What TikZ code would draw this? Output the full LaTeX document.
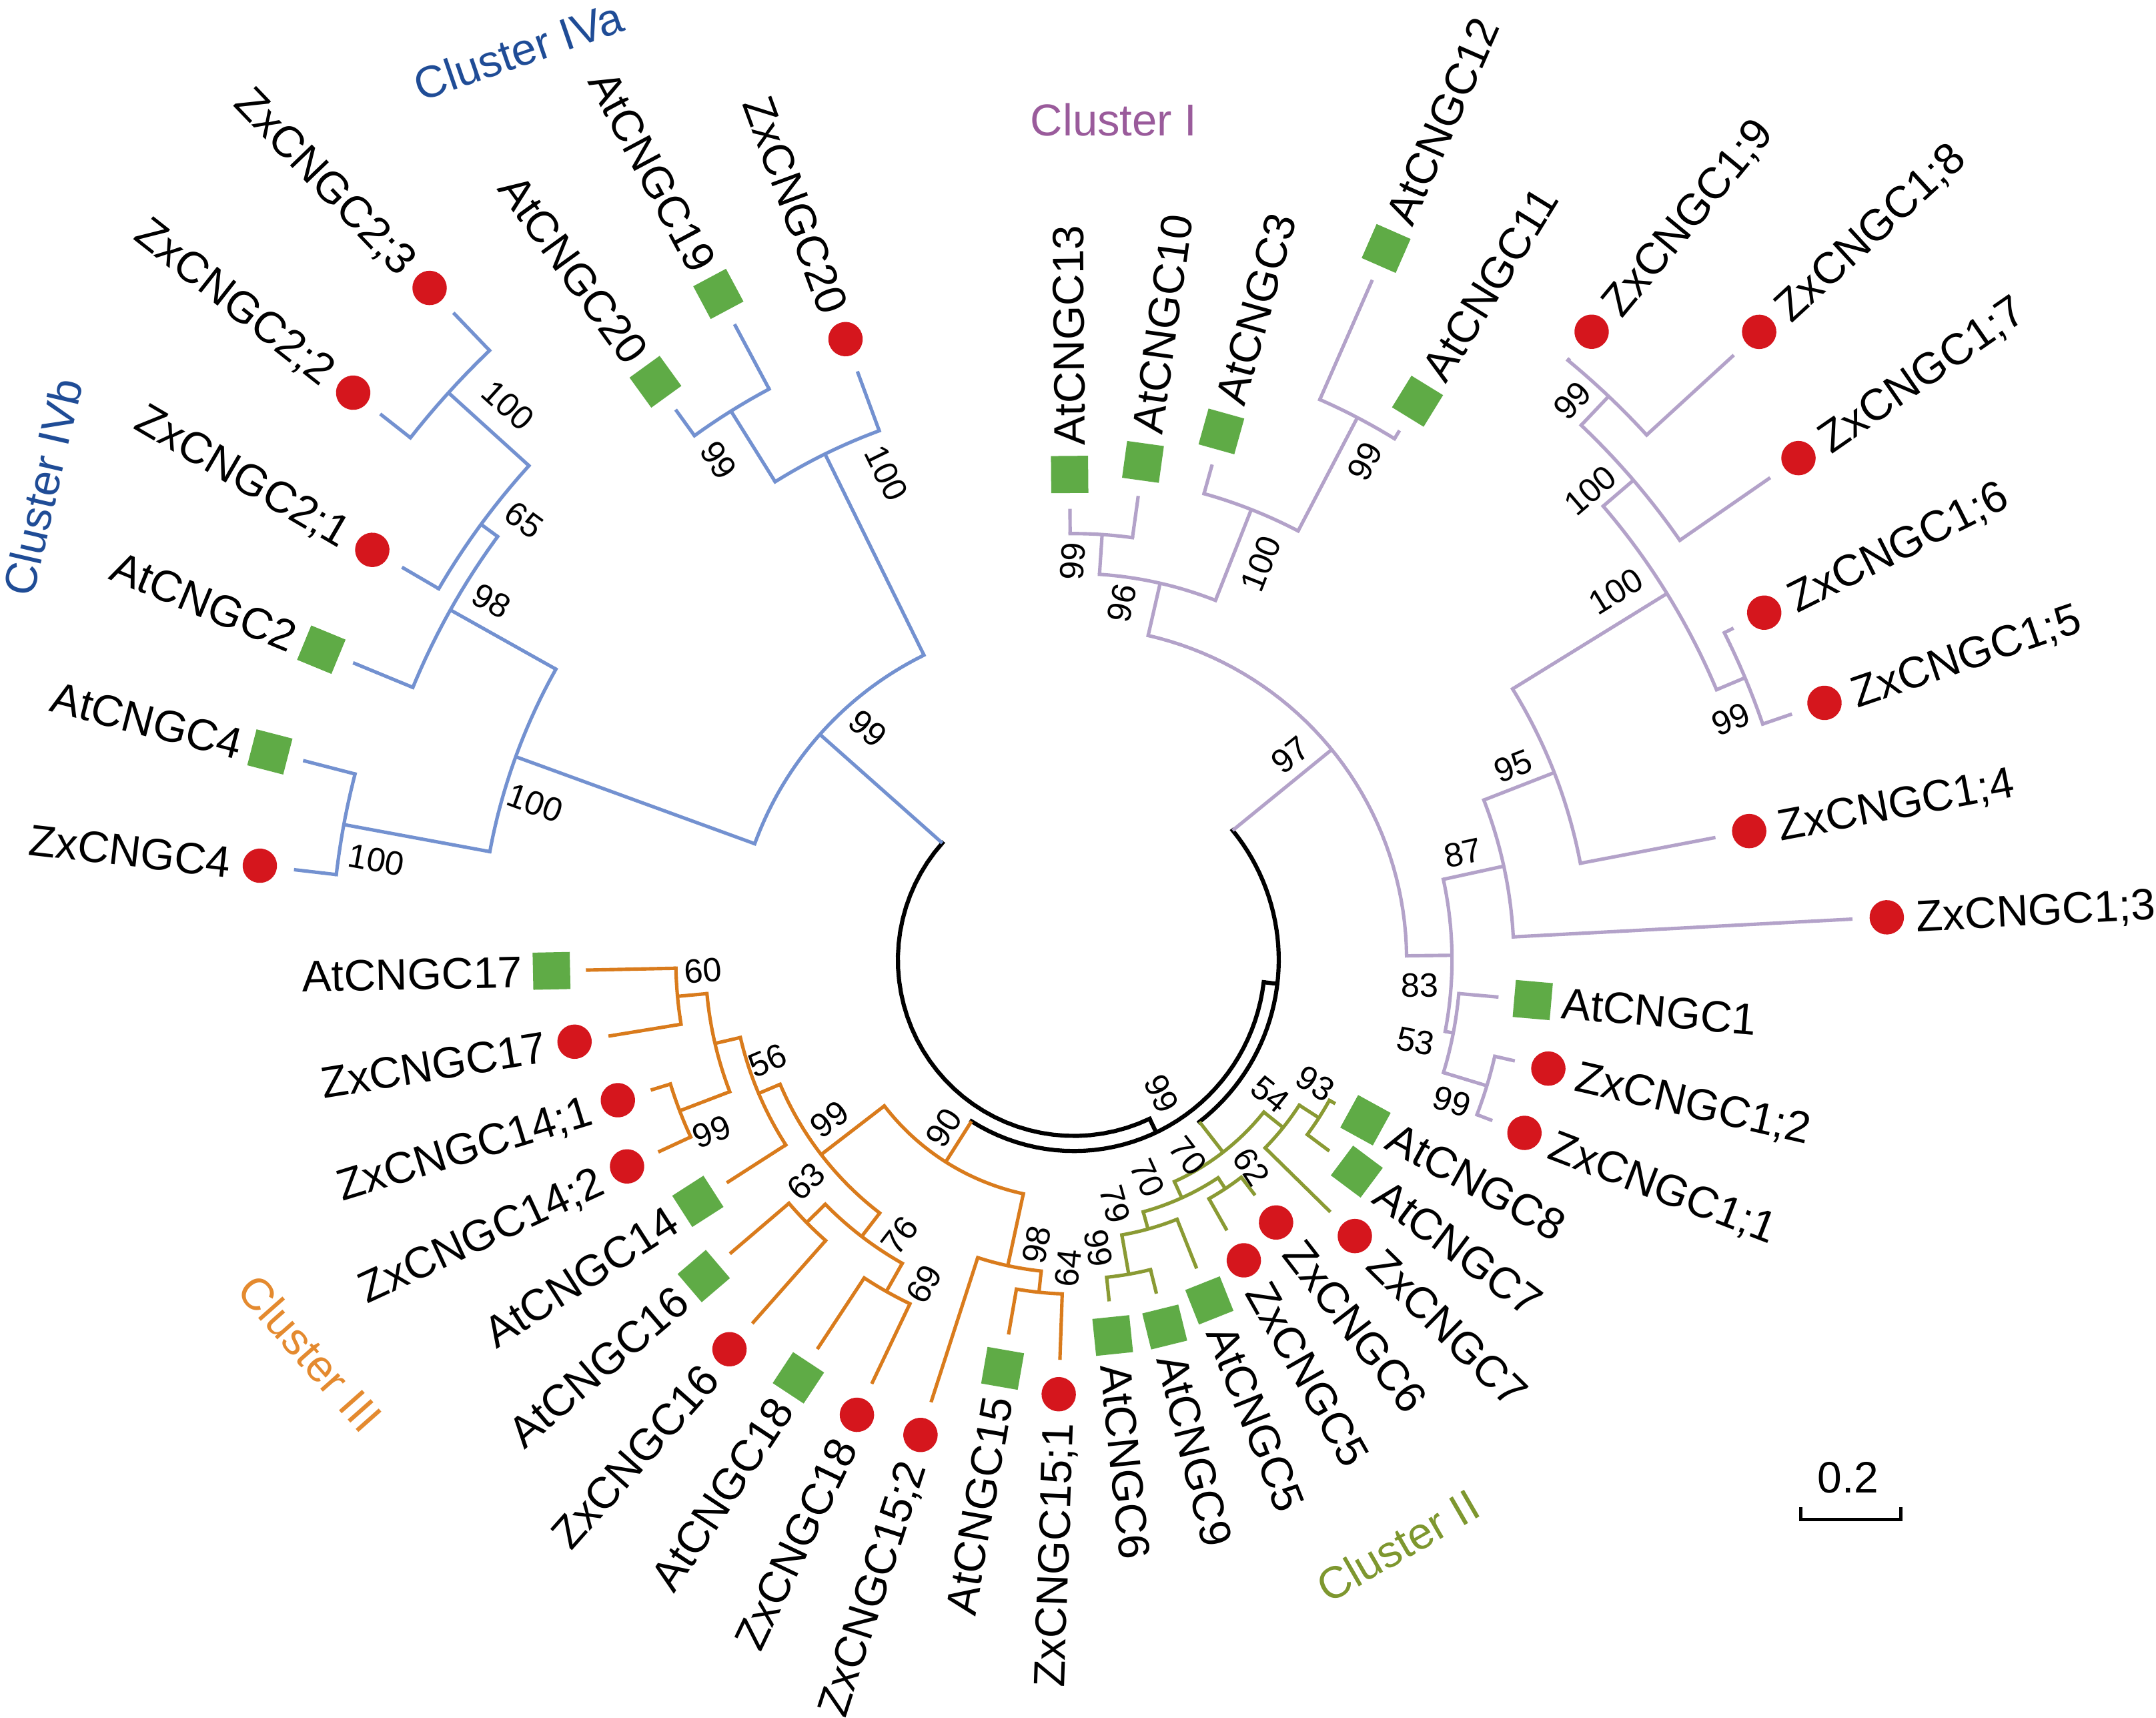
\documentclass[tikz,border=0pt]{standalone}
\usepackage{fontspec}
\setmainfont{Liberation Sans}
\definecolor{cblue}{HTML}{7391D0}
\definecolor{clav}{HTML}{B3A2C9}
\definecolor{cora}{HTML}{D97B1C}
\definecolor{coli}{HTML}{8A9A33}
\definecolor{cred}{HTML}{D5161D}
\definecolor{cgrn}{HTML}{5FAB46}
\definecolor{tblue}{HTML}{1F4C96}
\definecolor{tpur}{HTML}{9A5B9B}
\definecolor{tora}{HTML}{E48A2F}
\definecolor{toli}{HTML}{7E972F}
\tikzset{
  br/.style={line width=2.5pt},
  brarc/.style={line width=2.5pt, line cap=rect},
  blk/.style={black, line width=3pt},
  dotm/.style={circle, fill=cred, minimum size=25pt, inner sep=0pt},
  sqm/.style={rectangle, fill=cgrn, minimum size=27pt, inner sep=0pt},
  leaf/.style={inner sep=0pt, font=\fontsize{32}{38}\selectfont, text height=22.9pt, text depth=0pt},
  bsn/.style={inner sep=0pt, font=\fontsize{24.5}{28}\selectfont},
  clus/.style={inner sep=0pt, font=\fontsize{32.5}{38}\selectfont},
}
\newcommand\radx[4]{\draw[br,#1] (#2:#3) -- (#2:#4);}
\newcommand\arcx[4]{\draw[brarc,#1] plot[domain=#3:#4,samples=40,variable=\t] ({#2*cos(\t)},{#2*sin(\t)});}
\newcommand\leafR[7]{%
  \draw[br,#2] (#3:#4) -- (#3:#5);
  \pgfmathsetmacro\rmk{#5+25}%
  \pgfmathsetmacro\rtx{#5+46}%
  \node[#6,rotate=-#3] (m#1) at (#3:\rmk) {};
  \node[leaf,anchor=west,rotate=-#3] (#1) at (#3:\rtx) {#7};
}
\newcommand\leafL[7]{%
  \draw[br,#2] (#3:#4) -- (#3:#5);
  \pgfmathsetmacro\rmk{#5+25}%
  \pgfmathsetmacro\rtx{#5+46}%
  \node[#6,rotate=-#3] (m#1) at (#3:\rmk) {};
  \node[leaf,anchor=east,rotate={180-#3}] (#1) at (#3:\rtx) {#7};
}
\newcommand\bsl[4]{\node[bsn,rotate=#4] (#1) at (#2) {#3};}
\begin{document}
\begin{tikzpicture}[x=1pt,y=-1pt]
\fill[white] (0,0) rectangle (1568,1249);
\useasboundingbox (0,0) rectangle (1568,1249);
\begin{scope}[shift={(781,698)}]
% ---- backbone (black)
\arcx{blk}{128}{64.5}{221.6}
\radx{blk}{64.5}{128}{139}
\arcx{blk}{139}{6.7}{122.4}
\radx{blk}{6.7}{139}{149}
\arcx{blk}{149}{-39.2}{52.2}
% ---- Cluster IV (blue)
\radx{cblue}{221.6}{128}{247}
\arcx{cblue}{247}{200.0}{243.8}
\radx{cblue}{200.0}{247}{432}
\arcx{cblue}{432}{190.5}{209.3}
\radx{cblue}{190.5}{432}{540}
\arcx{cblue}{540}{186.6}{194.5}
\leafL{l0}{cblue}{186.6}{540}{571}{dotm}{ZxCNGC4}
\leafL{l1}{cblue}{194.5}{540}{579}{sqm}{AtCNGC4}
\radx{cblue}{209.3}{432}{520}
\arcx{cblue}{520}{202.4}{216.3}
\leafL{l2}{cblue}{202.4}{520}{567}{sqm}{AtCNGC2}
\radx{cblue}{216.3}{520}{535}
\arcx{cblue}{535}{210.3}{222.2}
\leafL{l3}{cblue}{210.3}{535}{566}{dotm}{ZxCNGC2;1}
\radx{cblue}{222.2}{535}{614}
\arcx{cblue}{614}{218.2}{226.2}
\leafL{l4}{cblue}{218.2}{614}{642}{dotm}{ZxCNGC2;2}
\leafL{l5}{cblue}{226.2}{614}{652}{dotm}{ZxCNGC2;3}
\radx{cblue}{243.8}{247}{410}
\arcx{cblue}{410}{238.0}{249.8}
\radx{cblue}{238.0}{410}{470.6}
\arcx{cblue}{470.6}{234.1}{241.9}
\leafL{l6}{cblue}{234.1}{470.6}{494}{sqm}{AtCNGC20}
\leafL{l7}{cblue}{241.9}{470.6}{524}{sqm}{AtCNGC19}
\leafL{l8}{cblue}{249.8}{410}{456}{dotm}{ZxCNGC20}
% ---- Cluster I (lavender)
\radx{clav}{320.8}{149}{242}
\arcx{clav}{242}{282.9}{359.3}
\radx{clav}{282.9}{242}{281}
\arcx{clav}{281}{273.8}{291.5}
\radx{clav}{273.8}{281}{310}
\arcx{clav}{310}{269.5}{277.9}
\leafR{l9}{clav}{269.5}{310}{328}{sqm}{AtCNGC13}
\leafR{l10}{clav}{277.9}{310}{340.6}{sqm}{AtCNGC10}
\radx{clav}{291.5}{281}{352}
\arcx{clav}{352}{285.6}{297.6}
\leafR{l11}{clav}{285.6}{352}{374}{sqm}{AtCNGC3}
\radx{clav}{297.6}{352}{445}
\arcx{clav}{445}{293.7}{301.6}
\leafR{l12}{clav}{293.7}{445}{540}{sqm}{AtCNGC12}
\leafR{l13}{clav}{301.6}{445}{452}{sqm}{AtCNGC11}
\radx{clav}{359.3}{242}{275}
\arcx{clav}{275}{347.7}{370.9}
\radx{clav}{347.7}{275}{320}
\arcx{clav}{320}{338.7}{357.0}
\leafR{l20}{clav}{357.0}{320}{567}{dotm}{ZxCNGC1;3}
\radx{clav}{338.7}{320}{375}
\arcx{clav}{375}{328.3}{349.2}
\leafR{l19}{clav}{349.2}{375}{475}{dotm}{ZxCNGC1;4}
\radx{clav}{328.3}{375}{507}
\arcx{clav}{507}{319.4}{337.2}
\radx{clav}{319.4}{507}{536}
\arcx{clav}{536}{313.5}{325.3}
\leafR{l16}{clav}{325.3}{536}{616}{dotm}{ZxCNGC1;7}
\radx{clav}{313.5}{536}{565}
\arcx{clav}{565}{309.5}{317.5}
\leafR{l14}{clav}{309.5}{565}{567}{dotm}{ZxCNGC1;9}
\leafR{l15}{clav}{317.5}{565}{651}{dotm}{ZxCNGC1;8}
\radx{clav}{337.2}{507}{529.5}
\arcx{clav}{529.5}{333.3}{341.1}
\leafR{l17}{clav}{333.3}{529.5}{537}{dotm}{ZxCNGC1;6}
\leafR{l18}{clav}{341.1}{529.5}{552}{dotm}{ZxCNGC1;5}
\radx{clav}{370.9}{275}{281}
\arcx{clav}{281}{365.0}{376.95}
\leafR{l21}{clav}{365.0}{281}{310}{sqm}{AtCNGC1}
\radx{clav}{376.95}{281}{314}
\arcx{clav}{314}{372.9}{381.0}
\leafR{l22}{clav}{372.9}{314}{329}{dotm}{ZxCNGC1;2}
\leafR{l23}{clav}{381.0}{314}{326}{dotm}{ZxCNGC1;1}
% ---- Cluster II (olive)
\radx{coli}{52.2}{149}{177}
\arcx{coli}{177}{38.7}{65.6}
\radx{coli}{38.7}{177}{195}
\arcx{coli}{195}{32.8}{44.5}
\radx{coli}{32.8}{195}{212}
\arcx{coli}{212}{28.8}{36.8}
\leafR{l24}{coli}{28.8}{212}{217}{sqm}{AtCNGC8}
\leafR{l25}{coli}{36.8}{212}{232}{sqm}{AtCNGC7}
\leafR{l26}{coli}{44.5}{195}{261.5}{dotm}{ZxCNGC7}
\radx{coli}{65.6}{177}{190}
\arcx{coli}{190}{56.5}{74.6}
\radx{coli}{56.5}{190}{199.5}
\arcx{coli}{199.5}{52.4}{60.5}
\leafR{l27}{coli}{52.4}{199.5}{216}{dotm}{ZxCNGC6}
\leafR{l28}{coli}{60.5}{199.5}{226}{dotm}{ZxCNGC5}
\radx{coli}{74.6}{190}{203}
\arcx{coli}{203}{68.3}{80.1}
\leafR{l29}{coli}{68.3}{203}{241.5}{sqm}{AtCNGC5}
\radx{coli}{80.1}{203}{232}
\arcx{coli}{232}{76.1}{84.1}
\leafR{l30}{coli}{76.1}{232}{250}{sqm}{AtCNGC9}
\leafR{l31}{coli}{84.1}{232}{249.6}{sqm}{AtCNGC6}
% ---- Cluster III (orange)
\radx{cora}{122.4}{139}{174}
\arcx{cora}{174}{102.2}{142.4}
\radx{cora}{102.2}{174}{227.5}
\arcx{cora}{227.5}{96.0}{107.9}
\leafL{l34}{cora}{107.9}{227.5}{338}{dotm}{ZxCNGC15;2}
\radx{cora}{96.0}{227.5}{243}
\arcx{cora}{243}{92.0}{99.9}
\leafL{l33}{cora}{99.9}{243}{276.5}{sqm}{AtCNGC15}
\leafL{l32}{cora}{92.0}{243}{291}{dotm}{ZxCNGC15;1}
\radx{cora}{142.4}{174}{232}
\arcx{cora}{232}{127.5}{157.05}
\radx{cora}{127.5}{232}{253.5}
\arcx{cora}{253.5}{119.5}{135.5}
\radx{cora}{135.5}{253.5}{272.5}
\arcx{cora}{272.5}{131.5}{139.5}
\leafL{l37}{cora}{131.5}{272.5}{353}{dotm}{ZxCNGC16}
\leafL{l38}{cora}{139.5}{272.5}{329}{sqm}{AtCNGC16}
\radx{cora}{119.5}{253.5}{277}
\arcx{cora}{277}{115.5}{123.4}
\leafL{l35}{cora}{115.5}{277}{341.5}{dotm}{ZxCNGC18}
\leafL{l36}{cora}{123.4}{277}{339}{sqm}{AtCNGC18}
\radx{cora}{157.05}{232}{249}
\arcx{cora}{249}{147.3}{166.9}
\leafL{l39}{cora}{147.3}{249}{300}{sqm}{AtCNGC14}
\radx{cora}{166.9}{249}{268}
\arcx{cora}{268}{159.05}{174.75}
\radx{cora}{159.05}{268}{307}
\arcx{cora}{307}{155.2}{162.9}
\leafL{l40}{cora}{155.2}{307}{333}{dotm}{ZxCNGC14;2}
\leafL{l41}{cora}{162.9}{307}{322}{dotm}{ZxCNGC14;1}
\radx{cora}{174.75}{268}{289.5}
\arcx{cora}{289.5}{170.7}{178.8}
\leafL{l42}{cora}{170.7}{289.5}{343}{dotm}{ZxCNGC17}
\leafL{l43}{cora}{178.8}{289.5}{355}{sqm}{AtCNGC17}
\end{scope}
% ---- bootstrap values
\bsl{b1}{631.4,529.7}{99}{-41.6}
\bsl{b2}{522.6,334.6}{99}{-58}
\bsl{b3}{644.5,344}{100}{-63.9}
\bsl{b4}{369.4,294.7}{100}{-42.2}
\bsl{b5}{381,378}{65}{-36.3}
\bsl{b6}{357.5,437}{98}{-29.3}
\bsl{b7}{389,584}{100}{-20}
\bsl{b8}{273.75,625.4}{100}{-10.5}
\bsl{b9}{938.4,549}{97}{39.2}
\bsl{b10}{815.9,438.5}{96}{77.1}
\bsl{b11}{780,408}{99}{86.2}
\bsl{b12}{917,410}{100}{68.5}
\bsl{b13}{992.75,335.3}{99}{62.4}
\bsl{b14}{1143.4,291.4}{99}{46.5}
\bsl{b15}{1156.5,356.6}{100}{40.6}
\bsl{b16}{1175,430}{100}{31.7}
\bsl{b17}{1259,523}{99}{22.8}
\bsl{b18}{1100.25,557}{95}{21.3}
\bsl{b19}{1064,620.1}{87}{12.3}
\bsl{b20}{1032.75,716.6}{83}{0.7}
\bsl{b21}{1029.6,757.2}{53}{-10.9}
\bsl{b22}{1055.9,801}{99}{-17}
\bsl{b23}{844.6,795.1}{99}{-64.5}
\bsl{b24}{686.4,820}{90}{57.6}
\bsl{b25}{511.4,705.9}{60}{5.25}
\bsl{b26}{558.25,771}{56}{22.95}
\bsl{b27}{603.25,813.7}{99}{37.6}
\bsl{b28}{517.6,823}{99}{20.95}
\bsl{b29}{586.4,859}{63}{44.5}
\bsl{b30}{654.5,898.4}{76}{52.5}
\bsl{b31}{672,933.7}{69}{60.5}
\bsl{b32}{753.9,905}{98}{77.8}
\bsl{b33}{777,922}{64}{84}
\bsl{b34}{924,795.8}{54}{-38.7}
\bsl{b35}{956.5,787.8}{93}{-32.8}
\bsl{b36}{864,840.5}{70}{-52.2}
\bsl{b37}{910,848.5}{62}{-56.5}
\bsl{b38}{834.6,856.5}{70}{-65.6}
\bsl{b39}{811,875.8}{79}{-74.6}
\bsl{b40}{799,907.7}{99}{-80.1}
% ---- cluster names
\node[clus,text=tblue,rotate=19] (c4a) at (377,37) {Cluster IVa};
\node[clus,text=tblue,rotate=77] (c4b) at (31,354) {Cluster IVb};
\node[clus,text=tpur] (c1) at (810,87) {Cluster I};
\node[clus,text=tora,rotate=-48.5] (c3) at (225.6,983.8) {Cluster III};
\node[clus,text=toli,rotate=30] (c2) at (1016.5,1124) {Cluster II};
% ---- scale bar
\draw[line width=2.5pt] (1309.5,1096) -- (1309.5,1105) -- (1382.5,1105) -- (1382.5,1096);
\node[leaf,anchor=center] (sc) at (1344,1074) {0.2};
\end{tikzpicture}
\end{document}
